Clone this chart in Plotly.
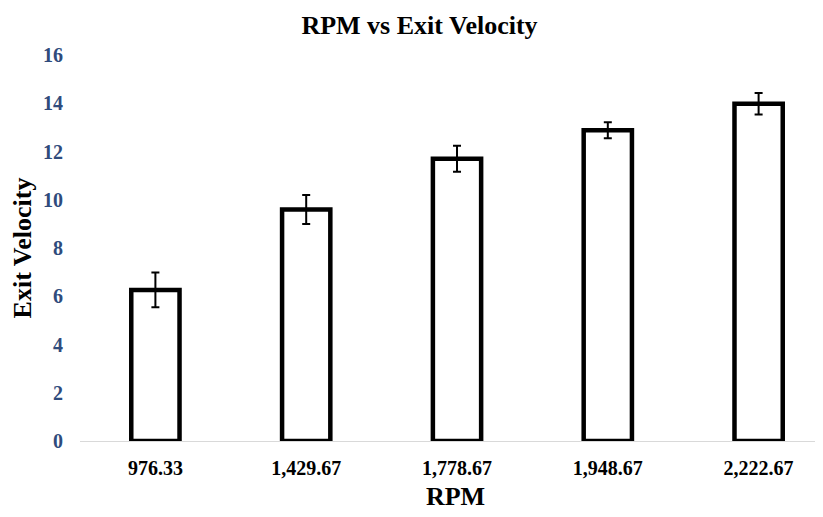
import plotly.graph_objects as go

rpm_labels = ["976.33", "1,429.67", "1,778.67", "1,948.67", "2,222.67"]
exit_velocity = [6.26, 9.6, 11.7, 12.88, 13.98]
error = [0.72, 0.6, 0.54, 0.33, 0.45]
y_ticks = [0, 2, 4, 6, 8, 10, 12, 14, 16]

serif = "Liberation Serif, Times New Roman, serif"

fig = go.Figure()
fig.add_trace(go.Bar(
    x=rpm_labels,
    y=exit_velocity,
    marker=dict(color="white", line=dict(color="black", width=4.5)),
    error_y=dict(type="data", array=error, visible=True, color="black", thickness=2, width=4),
    width=0.32,
))

fig.update_layout(
    width=823, height=517,
    margin=dict(l=72, r=0, t=47, b=84),
    paper_bgcolor="white", plot_bgcolor="white",
    title=dict(text="<b>RPM vs Exit Velocity</b>", x=0.5, xanchor="center", y=0.985, yanchor="top",
               font=dict(family=serif, size=26, color="black")),
    showlegend=False,
    xaxis=dict(
        type="category",
        range=[-0.5, 4.48],
        showline=True, linecolor="#d9d9d9", linewidth=1,
        showgrid=False, zeroline=False,
        tickfont=dict(family=serif, size=20, color="black", weight="bold"),
        ticklabelstandoff=9,
        title=dict(text="<b>RPM</b>", font=dict(family=serif, size=26, color="black"), standoff=8),
    ),
    yaxis=dict(
        range=[0, 16],
        tickvals=y_ticks,
        showgrid=False, zeroline=False, showline=False,
        tickfont=dict(family=serif, size=20, color="#2f4b7c", weight="bold"),
        ticklabelstandoff=16,
        title=dict(text="<b>Exit Velocity</b>", font=dict(family=serif, size=26, color="black"), standoff=4),
    ),
)

fig.write_html("out.html")
